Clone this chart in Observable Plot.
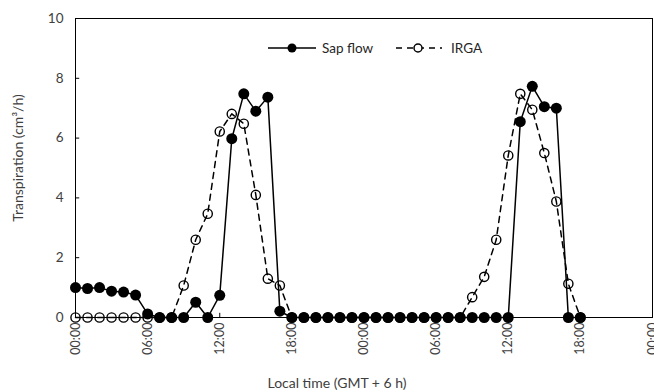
<!DOCTYPE html>
<html>
<head>
<meta charset="utf-8">
<script src="https://cdn.jsdelivr.net/npm/d3@7"></script>
<script src="https://cdn.jsdelivr.net/npm/@observablehq/plot@0.6"></script>
<style>
  body { margin: 0; background: #fff; }
  #wrap { position: relative; width: 654px; height: 392px; font-family: Lato, "Open Sans", sans-serif; }
  #legend { position: absolute; left: 266px; top: 38px; display: flex; align-items: center; font-size: 13.5px; color: #262626; }
  #legend span { margin-right: 10px; }
</style>
</head>
<body>
<div id="wrap">
  <div id="chart"></div>
  <div id="legend">
    <svg width="52" height="20"><line x1="2" x2="50" y1="10" y2="10" stroke="black" stroke-width="1.5"/><circle cx="26" cy="10" r="4.5" fill="black"/></svg>
    <span style="margin-left:4px;margin-right:22px">Sap flow</span>
    <svg width="48" height="20"><line x1="1" x2="47" y1="10" y2="10" stroke="black" stroke-width="1.5" stroke-dasharray="6,5"/><circle cx="23" cy="10" r="4" fill="white" stroke="black" stroke-width="1.5"/></svg>
    <span style="margin-left:8px">IRGA</span>
  </div>
</div>
<script>
// Hours since start (hourly measurements over two days)
const hours = d3.range(0, 43);
const sapFlow = [1.0, 0.97, 1.0, 0.88, 0.85, 0.75, 0.12, 0, 0, 0, 0.51, 0, 0.74, 5.98, 7.48, 6.9, 7.37, 0.21, 0,
  0, 0, 0, 0, 0, 0, 0, 0, 0, 0, 0, 0, 0, 0, 0, 0, 0, 0,
  6.55, 7.73, 7.05, 7.0, 0, 0];
const irga = [0, 0, 0, 0, 0, 0, 0, 0, 0, 1.07, 2.6, 3.47, 6.22, 6.81, 6.48, 4.1, 1.3, 1.07, 0,
  0, 0, 0, 0, 0, 0, 0, 0, 0, 0, 0, 0, 0, 0,
  0.68, 1.36, 2.6, 5.42, 7.48, 6.95, 5.5, 3.88, 1.13, 0];
const xTicks = [0, 6, 12, 18, 24, 30, 36, 42, 48];
const xTickLabels = ["00:00", "06:00", "12:00", "18:00", "00:00", "06:00", "12:00", "18:00", "00:00"];
const yTicks = [0, 2, 4, 6, 8, 10];
const xTitle = "Local time (GMT + 6 h)";
const yTitle = "Transpiration (cm³/h)";

const sapRows = hours.map((h, i) => ({h, v: sapFlow[i]}));
const irgaRows = hours.map((h, i) => ({h, v: irga[i]}));

const chart = Plot.plot({
  width: 654,
  height: 392,
  marginLeft: 75,
  marginRight: 2,
  marginTop: 18,
  marginBottom: 75,
  style: {fontFamily: "Lato, 'Open Sans', sans-serif", fontSize: "13px", color: "#404040", background: "white"},
  x: {domain: [0, 48]},
  y: {domain: [0, 10]},
  marks: [
    Plot.frame({stroke: "black", strokeWidth: 1}),
    Plot.axisY({ticks: yTicks, tickSize: 0, tickPadding: 12, fontSize: 13.5, label: null}),
    Plot.axisX({ticks: xTicks, tickFormat: d => xTickLabels[xTicks.indexOf(d)], tickSize: 0, tickPadding: 5, tickRotate: -90, fontSize: 12.5, label: null}),
    Plot.text([xTitle], {frameAnchor: "bottom", textAnchor: "middle", lineAnchor: "middle", dx: -27, dy: 66, fontSize: 14, fill: "#404040"}),
    Plot.text([yTitle], {frameAnchor: "left", textAnchor: "middle", lineAnchor: "middle", dx: -57, dy: -10, rotate: -90, fontSize: 14, fill: "#404040"}),
    Plot.ruleY(yTicks.slice(1, -1), {x1: 0, x2: 0.35, stroke: "black"}),
    Plot.ruleX(xTicks.slice(1, -1), {y1: 0, y2: 0.14, stroke: "black"}),
    Plot.line(irgaRows, {x: "h", y: "v", stroke: "black", strokeWidth: 1.5, strokeDasharray: "6,5"}),
    Plot.dot(irgaRows, {x: "h", y: "v", r: 4.6, fill: "white", fillOpacity: 0, stroke: "black", strokeWidth: 1.4}),
    Plot.line(sapRows, {x: "h", y: "v", stroke: "black", strokeWidth: 1.5}),
    Plot.dot(sapRows, {x: "h", y: "v", r: 5.5, fill: "black", stroke: "none"})
  ]
});
document.getElementById("chart").appendChild(chart);
</script>
</body>
</html>
